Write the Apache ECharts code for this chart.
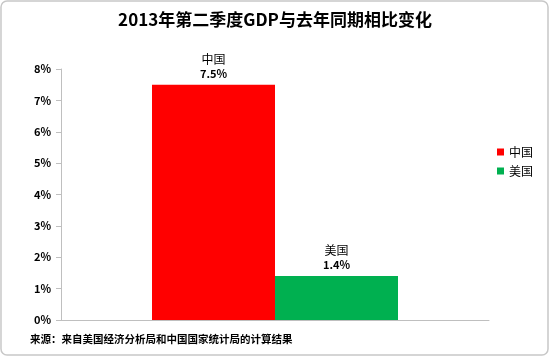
<!DOCTYPE html>
<html><head><meta charset="utf-8">
<script src="https://cdn.jsdelivr.net/npm/echarts@6/dist/echarts.min.js"></script>
<style>html,body{margin:0;padding:0;background:#fff}#c{width:550px;height:357px}</style>
</head><body><div id="c"></div>
<script>
var categories = ['2013Q2'];
var seriesNames = ['中国', '美国'];
var chinaValues = [7.5];
var usValues = [1.4];
var yTicks = [0, 1, 2, 3, 4, 5, 6, 7, 8];
var colors = ['#ff0000', '#00b050'];

var chart = echarts.init(document.getElementById('c'));
var font = '"Noto Sans CJK SC", "Liberation Sans", sans-serif';
function lbl() {
  return {
    show: true, position: 'top', distance: 4,
    formatter: function (p) { return '{n|' + p.seriesName + '}\n{v|' + p.value + '%}'; },
    rich: {
      n: {fontSize: 12, color: '#000', fontFamily: font, lineHeight: 15},
      v: {fontSize: 11, fontWeight: 'bold', color: '#000', fontFamily: font, lineHeight: 14}
    }
  };
}
chart.setOption({
  animation: false,
  textStyle: {fontFamily: font},
  title: {
    text: '2013年第二季度GDP与去年同期相比变化', left: 'center', top: 6,
    textStyle: {fontSize: 17, fontWeight: 'bold', color: '#000', fontFamily: font}
  },
  legend: {
    orient: 'vertical', left: 492, top: 141, itemWidth: 7, itemHeight: 7, itemGap: 7, icon: 'rect',
    textStyle: {fontSize: 12, color: '#000', fontFamily: font},
    data: seriesNames
  },
  grid: {left: 61, right: 61, top: 69, bottom: 37, containLabel: false},
  xAxis: {
    type: 'category', data: categories,
    axisLine: {lineStyle: {color: '#bfbfbf'}},
    axisTick: {show: false}, axisLabel: {show: false}
  },
  yAxis: {
    type: 'value', min: yTicks[0], max: yTicks[yTicks.length - 1], interval: 1,
    axisLine: {show: true, lineStyle: {color: '#bfbfbf'}},
    axisTick: {show: true, length: 5, lineStyle: {color: '#bfbfbf'}},
    splitLine: {show: false},
    axisLabel: {formatter: '{value}%', fontSize: 11, fontWeight: 'bold', color: '#000', margin: 10, fontFamily: font}
  },
  graphic: [
    {type: 'rect', shape: {x: 1, y: 1, width: 547, height: 354, r: 6}, style: {fill: 'none', stroke: '#c8c8c8', lineWidth: 1.5}, z: -1},
    {type: 'text', left: 30, top: 334, style: {text: '来源：来自美国经济分析局和中国国家统计局的计算结果', font: 'bold 10.5px ' + font, fill: '#000'}}
  ],
  series: [
    {name: seriesNames[0], type: 'bar', data: chinaValues, barWidth: 123, barGap: '0%', itemStyle: {color: colors[0]}, label: lbl()},
    {name: seriesNames[1], type: 'bar', data: usValues, barWidth: 123, barGap: '0%', itemStyle: {color: colors[1]}, label: lbl()}
  ]
});
</script></body></html>
